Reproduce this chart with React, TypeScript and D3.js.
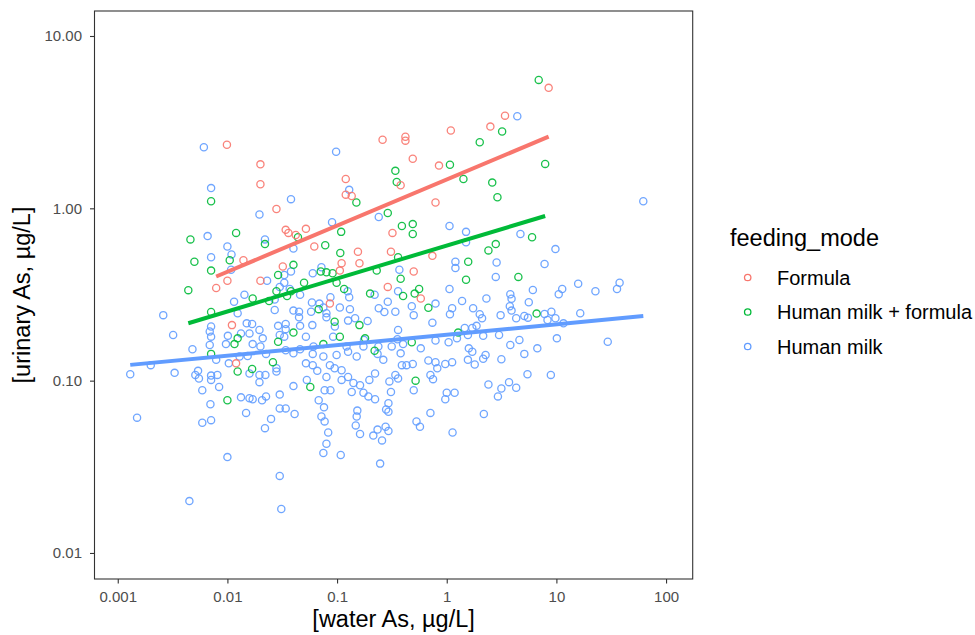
import React, { useRef, useEffect } from "react";
import * as d3 from "d3";

// feeding mode groups, legend order
const categories = ["Formula", "Human milk + formula", "Human milk"];
const colors = ["#F8766D", "#00BA38", "#619CFF"];

const xTicks = [0.001, 0.01, 0.1, 1, 10, 100];
const xTickLabels = ["0.001", "0.01", "0.1", "1", "10", "100"];
const yTicks = [0.01, 0.1, 1, 10];
const yTickLabels = ["0.01", "0.10", "1.00", "10.00"];

// [water As, urinary As] in µg/L
const formulaPoints: [number, number][] = [
  [0.0099, 2.34], [0.02, 1.8], [0.02, 1.38], [0.028, 0.99], [0.26, 2.5], [0.12, 1.48], [0.12, 1.2],
  [0.136, 1.18], [8.5, 5.0], [3.4, 3.45], [2.5, 2.98], [1.09, 2.83], [0.42, 2.6], [0.42, 2.47],
  [0.49, 1.94], [0.85, 1.77], [0.38, 1.36], [0.79, 1.08], [0.052, 0.76], [0.034, 0.75], [0.036, 0.72],
  [0.042, 0.7], [0.32, 0.72], [0.014, 0.5], [0.062, 0.6], [0.155, 0.56], [0.31, 0.56], [0.11, 0.48],
  [0.16, 0.48], [0.032, 0.46], [0.106, 0.435], [0.02, 0.38], [0.01, 0.38], [0.0079, 0.345], [0.29, 0.35],
  [0.086, 0.28], [0.011, 0.21], [0.012, 0.126], [0.5, 0.43], [0.74, 0.53], [0.58, 0.3],
];

const mixedPoints: [number, number][] = [
  [0.0071, 1.1], [0.15, 1.08], [0.34, 1.65], [0.35, 1.42], [6.9, 5.56], [3.2, 2.79], [2.0, 2.42],
  [1.07, 1.79], [7.9, 1.81], [1.42, 1.48], [2.6, 1.41], [2.9, 1.16], [0.29, 0.94], [0.044, 0.68],
  [0.109, 0.73], [0.012, 0.72], [0.0046, 0.66], [0.022, 0.62], [0.0105, 0.5], [0.005, 0.49], [0.078, 0.61],
  [0.107, 0.55], [0.04, 0.47], [0.029, 0.41], [0.071, 0.43], [0.08, 0.425], [0.091, 0.42], [0.23, 0.435],
  [0.0071, 0.435], [0.099, 0.37], [0.116, 0.34], [0.05, 0.37], [0.0044, 0.335], [0.028, 0.33], [0.038, 0.33],
  [0.035, 0.31], [0.024, 0.29], [0.017, 0.3], [0.2, 0.32], [0.068, 0.26], [0.0071, 0.25], [0.095, 0.22],
  [0.16, 0.21], [0.106, 0.18], [0.18, 0.176], [0.0124, 0.176], [0.04, 0.19], [0.029, 0.168], [0.0116, 0.163],
  [0.075, 0.163], [0.0071, 0.143], [0.22, 0.149], [0.026, 0.128], [0.0124, 0.113], [0.0168, 0.117],
  [0.057, 0.092], [0.01, 0.077], [0.39, 0.79], [0.49, 0.81], [0.49, 0.71], [6.0, 0.68], [2.8, 0.62],
  [2.4, 0.57], [0.36, 0.52], [1.57, 0.49], [0.38, 0.39], [1.5, 0.385], [4.5, 0.4], [0.56, 0.34], [0.51, 0.32],
  [0.4, 0.31], [0.68, 0.265], [6.6, 0.245], [1.27, 0.19], [0.48, 0.167], [0.52, 0.1],
];

const humanMilkPoints: [number, number][] = [
  [0.0061, 2.26], [0.0071, 1.31], [0.038, 1.13], [0.098, 2.13], [0.129, 1.28], [4.4, 3.42], [62, 1.1],
  [0.0196, 0.92], [0.24, 0.89], [0.09, 0.83], [0.0066, 0.69], [0.022, 0.66], [0.01, 0.6], [0.0109, 0.54],
  [0.0071, 0.52], [0.04, 0.585], [0.038, 0.43], [0.072, 0.455], [0.06, 0.42], [0.0108, 0.44], [0.023, 0.38],
  [0.033, 0.37], [0.033, 0.41], [0.125, 0.33], [0.129, 0.305], [0.03, 0.35], [0.037, 0.34], [0.046, 0.315],
  [0.027, 0.296], [0.0143, 0.315], [0.0115, 0.287], [0.29, 0.287], [0.22, 0.315], [0.087, 0.305],
  [0.059, 0.284], [0.069, 0.28], [0.075, 0.266], [0.106, 0.266], [0.131, 0.26], [0.24, 0.263], [0.27, 0.25],
  [0.04, 0.255], [0.045, 0.251], [0.045, 0.233], [0.027, 0.257], [0.058, 0.251], [0.08, 0.246], [0.08, 0.233],
  [0.0124, 0.246], [0.0026, 0.24], [0.015, 0.215], [0.0168, 0.213], [0.0071, 0.206], [0.0069, 0.193],
  [0.0071, 0.18], [0.029, 0.208], [0.034, 0.213], [0.034, 0.199], [0.046, 0.208], [0.0595, 0.21],
  [0.0955, 0.206], [0.126, 0.223], [0.146, 0.23], [0.19, 0.222], [0.176, 0.172], [0.0032, 0.184],
  [0.0101, 0.182], [0.0133, 0.188], [0.0159, 0.188], [0.0196, 0.197], [0.021, 0.176], [0.03, 0.184],
  [0.033, 0.18], [0.052, 0.18], [0.092, 0.18], [0.0097, 0.163], [0.0069, 0.161], [0.017, 0.163], [0.02, 0.158],
  [0.061, 0.158], [0.046, 0.152], [0.034, 0.15], [0.122, 0.158], [0.174, 0.158], [0.238, 0.158], [0.0048, 0.152],
  [0.234, 0.143], [0.264, 0.132], [0.315, 0.158], [0.0129, 0.138], [0.0153, 0.139], [0.0225, 0.143],
  [0.04, 0.144], [0.06, 0.143], [0.075, 0.138], [0.099, 0.141], [0.126, 0.147], [0.151, 0.138], [0.0079, 0.132],
  [0.002, 0.123], [0.0013, 0.109], [0.0033, 0.111], [0.0051, 0.108], [0.0054, 0.114], [0.0055, 0.103],
  [0.0071, 0.107], [0.0071, 0.101], [0.0081, 0.108], [0.0103, 0.126], [0.0159, 0.11], [0.0196, 0.108],
  [0.0222, 0.108], [0.0196, 0.098], [0.028, 0.118], [0.028, 0.113], [0.052, 0.126], [0.06, 0.123],
  [0.066, 0.114], [0.086, 0.123], [0.095, 0.118], [0.11, 0.115], [0.126, 0.105], [0.053, 0.101], [0.08, 0.105],
  [0.11, 0.101], [0.141, 0.097], [0.162, 0.094], [0.197, 0.101], [0.222, 0.11], [0.3, 0.099], [0.0059, 0.088],
  [0.0084, 0.092], [0.04, 0.093], [0.077, 0.088], [0.087, 0.088], [0.136, 0.086], [0.174, 0.085], [0.193, 0.081],
  [0.31, 0.086], [0.0133, 0.08], [0.0225, 0.081], [0.03, 0.083], [0.0159, 0.079], [0.017, 0.078],
  [0.0207, 0.077], [0.068, 0.077], [0.076, 0.07], [0.222, 0.078], [0.294, 0.074], [0.28, 0.068], [0.294, 0.066],
  [0.0015, 0.061], [0.007, 0.073], [0.0059, 0.057], [0.0071, 0.059], [0.0148, 0.065], [0.025, 0.06],
  [0.022, 0.053], [0.03, 0.069], [0.034, 0.069], [0.041, 0.064], [0.072, 0.062], [0.077, 0.058], [0.083, 0.05],
  [0.08, 0.043], [0.075, 0.038], [0.108, 0.037], [0.153, 0.067], [0.151, 0.062], [0.148, 0.055], [0.162, 0.049],
  [0.234, 0.052], [0.214, 0.048], [0.257, 0.045], [0.277, 0.054], [0.294, 0.051], [0.247, 0.033], [0.01, 0.036],
  [0.03, 0.028], [0.0045, 0.02], [0.031, 0.018], [1.06, 0.79], [1.5, 0.73], [1.5, 0.635], [4.7, 0.71],
  [9.8, 0.58], [1.2, 0.49], [1.2, 0.45], [2.85, 0.485], [7.8, 0.475], [0.37, 0.44], [2.8, 0.4], [1.06, 0.34],
  [0.36, 0.33], [6.1, 0.336], [11.3, 0.34], [10.5, 0.317], [15.8, 0.365], [22.7, 0.33], [37.7, 0.37],
  [35.7, 0.34], [2.3, 0.3], [3.8, 0.317], [3.9, 0.299], [1.38, 0.29], [0.79, 0.28], [0.48, 0.27], [1.12, 0.263],
  [1.07, 0.243], [0.5, 0.24], [0.34, 0.251], [1.74, 0.263], [3.76, 0.27], [3.9, 0.255], [5.6, 0.285],
  [7.8, 0.244], [9.0, 0.251], [9.8, 0.23], [8.3, 0.225], [16.5, 0.246], [3.1, 0.24], [2.0, 0.243], [2.1, 0.23],
  [4.3, 0.23], [5.1, 0.237], [5.5, 0.232], [11.6, 0.215], [0.74, 0.217], [1.87, 0.208], [1.71, 0.202],
  [1.46, 0.202], [1.56, 0.184], [2.15, 0.182], [3.0, 0.184], [1.24, 0.176], [0.36, 0.197], [0.355, 0.174],
  [0.4, 0.163], [0.58, 0.154], [0.79, 0.171], [1.04, 0.167], [4.6, 0.172], [3.8, 0.161], [6.7, 0.154],
  [10.1, 0.176], [29.4, 0.168], [1.59, 0.154], [1.71, 0.147], [0.38, 0.144], [2.26, 0.141], [2.15, 0.134],
  [3.15, 0.133], [5.1, 0.143], [0.68, 0.131], [0.79, 0.128], [0.82, 0.118], [1.12, 0.128], [0.97, 0.125],
  [1.56, 0.132], [1.8, 0.124], [0.39, 0.123], [0.43, 0.123], [0.49, 0.125], [0.34, 0.108], [0.36, 0.103],
  [0.71, 0.108], [0.75, 0.102], [5.45, 0.109], [8.9, 0.108], [2.4, 0.095], [3.7, 0.098], [3.15, 0.09],
  [4.3, 0.091], [0.5, 0.088], [1.0, 0.085], [1.18, 0.085], [0.97, 0.078], [2.93, 0.081], [0.71, 0.065],
  [0.53, 0.058], [0.57, 0.054], [1.13, 0.05], [2.18, 0.064],
];

const groups = [formulaPoints, mixedPoints, humanMilkPoints];

// least squares on log10 scale, like geom_smooth(method = "lm") with log axes
const fitLine = (pts: [number, number][]) => {
  const lx = pts.map((p) => Math.log10(p[0]));
  const ly = pts.map((p) => Math.log10(p[1]));
  const mx = d3.mean(lx) as number;
  const my = d3.mean(ly) as number;
  const slope = d3.sum(lx, (x, i) => (x - mx) * (ly[i] - my)) / d3.sum(lx, (x) => (x - mx) ** 2);
  const b = my - slope * mx;
  const [x0, x1] = d3.extent(lx) as [number, number];
  return [
    [10 ** x0, 10 ** (b + slope * x0)],
    [10 ** x1, 10 ** (b + slope * x1)],
  ];
};

const App = () => {
  const ref = useRef<SVGSVGElement>(null);

  useEffect(() => {
    const width = 975;
    const height = 635;
    const left = 94.5, right = 692.7, top = 11, bottom = 579;
    const font = "'Liberation Sans', Arial, Helvetica, sans-serif";

    const svg = d3.select(ref.current);
    svg.selectAll("*").remove();
    svg.attr("width", width).attr("height", height);

    const x = d3.scaleLog().domain([10 ** -3.212, 10 ** 2.243]).range([left, right]);
    const y = d3.scaleLog().domain([10 ** -2.151, 10 ** 1.145]).range([bottom, top]);

    // axes
    const xAxis = svg
      .append("g")
      .attr("transform", `translate(0,${bottom})`)
      .call(
        d3.axisBottom(x).tickValues(xTicks).tickSize(4.5).tickPadding(8)
          .tickFormat((d, i) => xTickLabels[i])
      );
    const yAxis = svg
      .append("g")
      .attr("transform", `translate(${left},0)`)
      .call(
        d3.axisLeft(y).tickValues(yTicks).tickSize(4.5).tickPadding(8)
          .tickFormat((d, i) => yTickLabels[i])
      );
    [xAxis, yAxis].forEach((g) => {
      g.select(".domain").remove();
      g.selectAll("line").attr("stroke", "#333").attr("stroke-width", 1.1);
      g.selectAll("text")
        .attr("fill", "#4d4d4d")
        .style("font-size", "15px")
        .style("font-family", font);
    });

    // points
    const plot = svg.append("g");
    [2, 1, 0].forEach((gi) => {
      plot
        .selectAll(null)
        .data(groups[gi])
        .enter()
        .append("circle")
        .attr("cx", (d) => x(d[0]))
        .attr("cy", (d) => y(d[1]))
        .attr("r", 3.6)
        .attr("fill", "none")
        .attr("stroke", colors[gi])
        .attr("stroke-opacity", 0.9)
        .attr("stroke-width", 1.3);
    });

    // regression lines
    const line = d3
      .line<number[]>()
      .x((d) => x(d[0]))
      .y((d) => y(d[1]));
    [2, 1, 0].forEach((gi) => {
      svg
        .append("path")
        .attr("d", line(fitLine(groups[gi])))
        .attr("fill", "none")
        .attr("stroke", colors[gi])
        .attr("stroke-width", 4);
    });

    // panel border
    svg
      .append("rect")
      .attr("x", left)
      .attr("y", top)
      .attr("width", right - left)
      .attr("height", bottom - top)
      .attr("fill", "none")
      .attr("stroke", "#333")
      .attr("stroke-width", 1.1);

    // axis titles
    svg
      .append("text")
      .attr("x", (left + right) / 2)
      .attr("y", 627)
      .attr("text-anchor", "middle")
      .style("font-family", font)
      .style("font-size", "23.5px")
      .text("[water As, µg/L]");
    svg
      .append("text")
      .attr("transform", `translate(30,${(top + bottom) / 2}) rotate(-90)`)
      .attr("text-anchor", "middle")
      .style("font-family", font)
      .style("font-size", "23.5px")
      .text("[urinary As, µg/L]");

    // legend
    const legend = svg.append("g");
    legend
      .append("text")
      .attr("x", 730)
      .attr("y", 246)
      .style("font-family", font)
      .style("font-size", "23.5px")
      .text("feeding_mode");
    categories.forEach((c, i) => {
      const cy = 277.5 + i * 34.5;
      legend
        .append("circle")
        .attr("cx", 747.7)
        .attr("cy", cy)
        .attr("r", 3.2)
        .attr("fill", "none")
        .attr("stroke", colors[i])
        .attr("stroke-width", 1.3);
      legend
        .append("text")
        .attr("x", 777)
        .attr("y", cy + 7.4)
        .style("font-family", font)
        .style("font-size", "20px")
        .text(c);
    });
  }, []);

  return <svg ref={ref} style={{ position: "absolute", left: 0, top: 0 }} />;
};

export default App;
